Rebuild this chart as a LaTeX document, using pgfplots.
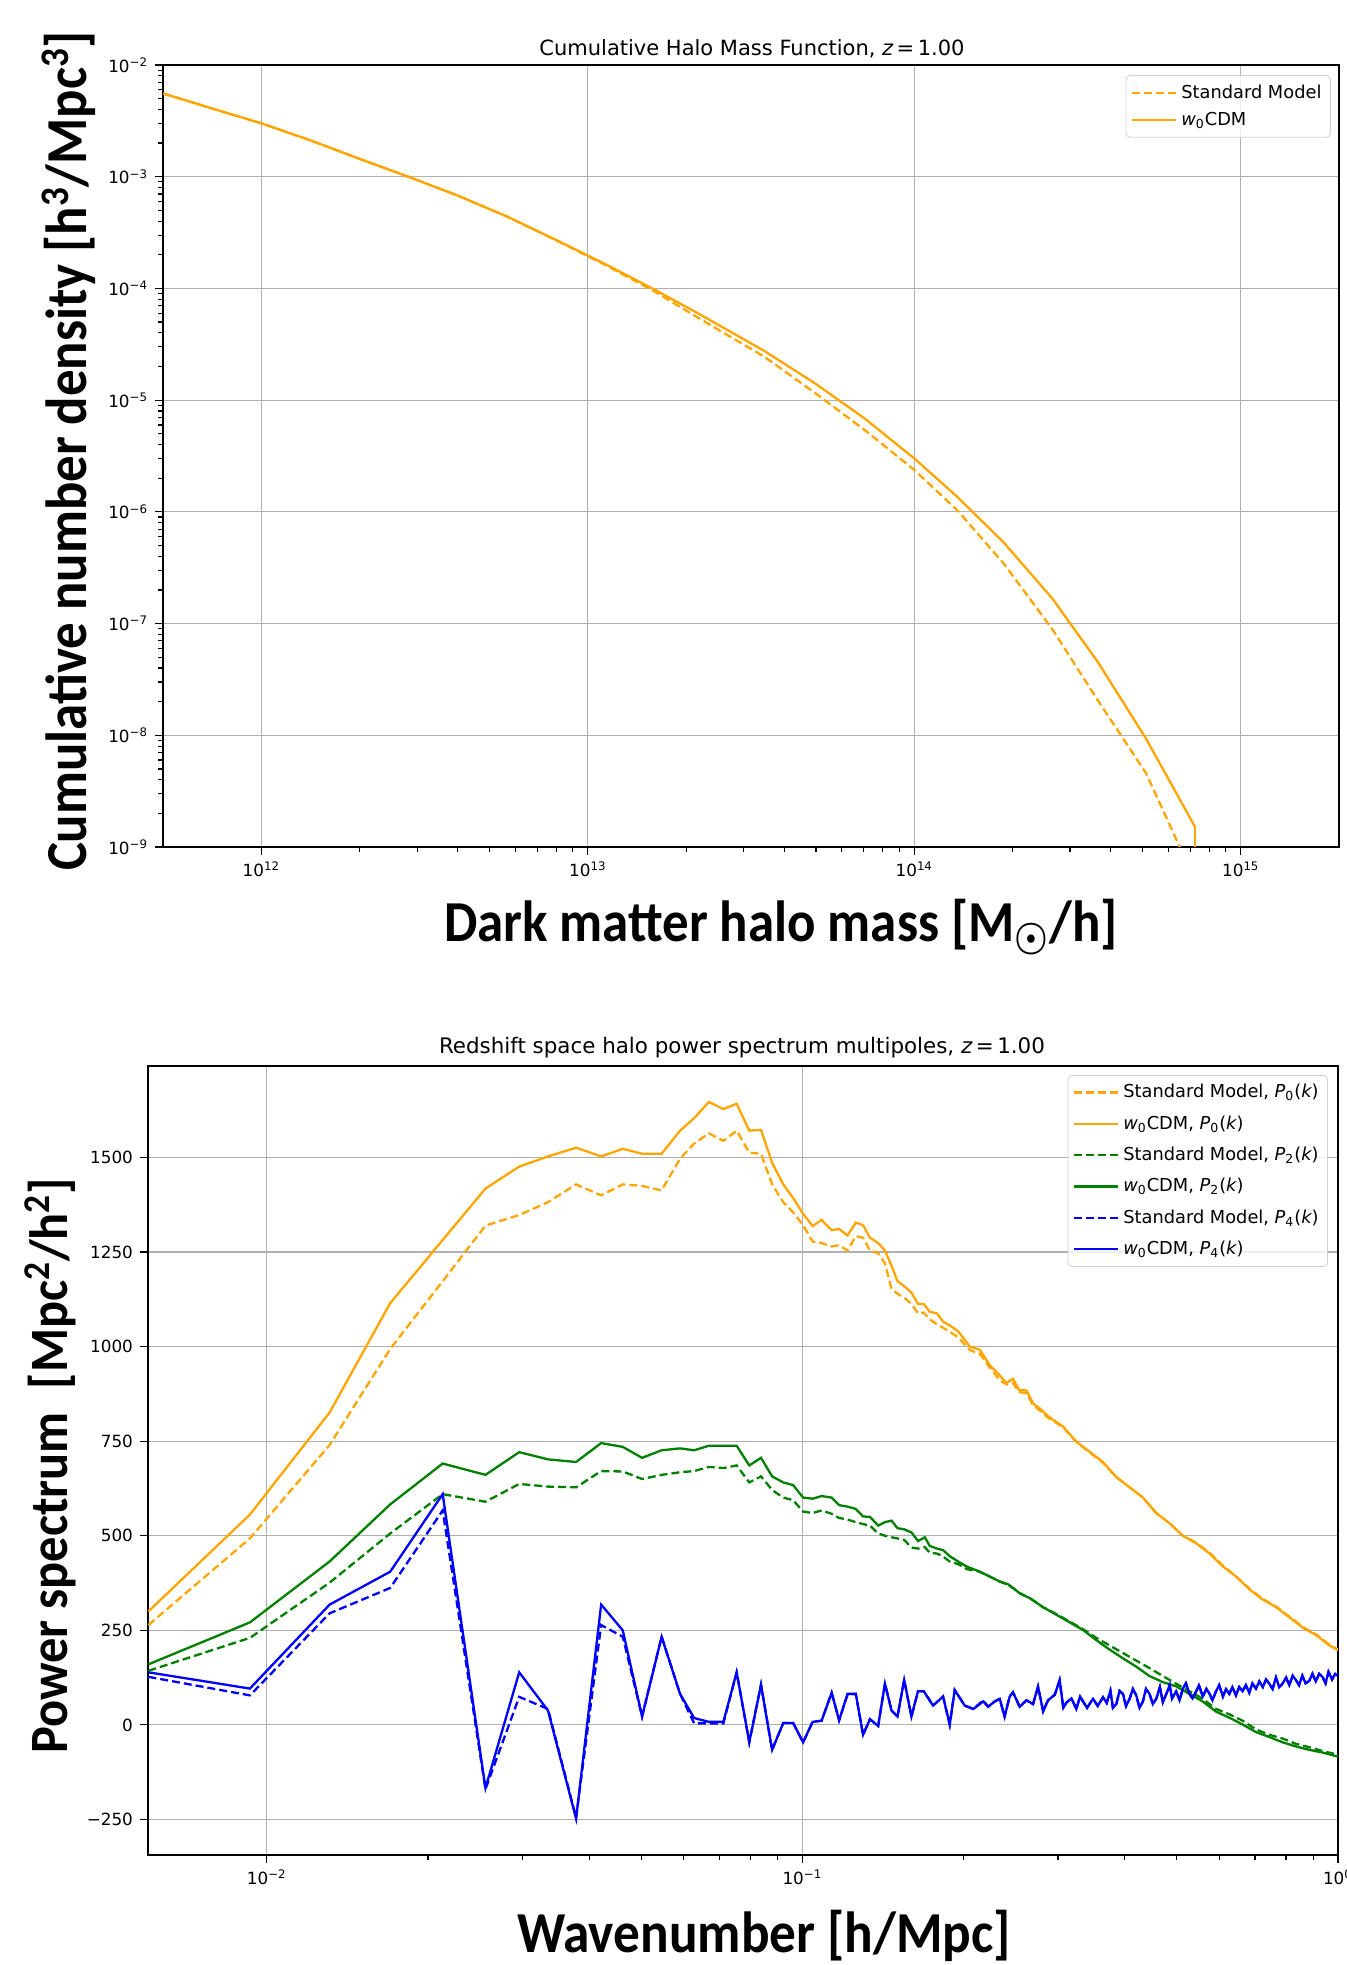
\documentclass[border=0pt]{standalone}
\usepackage{fontspec}
\setmainfont{DejaVu Sans}
\newfontfamily\labelfont{Carlito}
\usepackage{pgfplots}
\usepackage{pgfplotstable}
\pgfplotsset{compat=1.18}

\definecolor{mplorange}{HTML}{FFA500}
\definecolor{mplgreen}{HTML}{008000}
\definecolor{mplblue}{HTML}{0000FF}
\definecolor{gridgray}{HTML}{B0B0B0}

% halo mass function: M, standard model, w0CDM
\pgfplotstableread{
M         sm         w0
5.012e11  5.559e-3   5.559e-3
7.079e11  4.074e-3   4.074e-3
1e12      3.006e-3   3.006e-3
1.413e12  2.118e-3   2.118e-3
1.995e12  1.449e-3   1.449e-3
2.818e12  1.0e-3     1.0e-3
3.981e12  6.808e-4   6.808e-4
5.623e12  4.436e-4   4.436e-4
7.943e12  2.723e-4   2.742e-4
1.122e13  1.641e-4   1.671e-4
1.585e13  9.550e-5   9.908e-5
2.198e13  5.370e-5   5.888e-5
3.475e13  2.443e-5   2.754e-5
4.977e13  1.153e-5   1.406e-5
7.031e13  5.433e-6   6.887e-6
1e14      2.371e-6   3.006e-6
1.355e14  1.033e-6   1.361e-6
1.884e14  3.412e-7   5.272e-7
2.649e14  8.872e-8   1.671e-7
3.648e14  2.056e-8   4.529e-8
5.129e14  4.571e-9   9.311e-9
7.244e14  5.012e-10  1.510e-9
}\hmf

% P0: k, standard model, w0CDM
\pgfplotstableread{
k       sm    w0
0.00601 264   300
0.0093  493   556
0.0131  740   826
0.0170  994   1115
0.0213  1173  1282
0.0256  1320  1418
0.0296  1348  1476
0.0335  1382  1503
0.0378  1429  1526
0.0421  1400  1503
0.0462  1429  1523
0.0502  1425  1510
0.0546  1413  1510
0.0591  1497  1571
0.0628  1537  1604
0.0669  1564  1647
0.0712  1544  1628
0.0754  1571  1642
0.0796  1513  1571
0.0837  1510  1573
0.0878  1429  1486
0.0921  1382  1429
0.0961  1355  1393
0.1003  1321  1351
0.1045  1278  1319
0.1086  1274  1335
0.1134  1265  1308
0.1171  1268  1311
0.1214  1254  1294
0.1258  1292  1328
0.1298  1288  1321
0.1337  1254  1288
0.1385  1247  1274
0.1426  1220  1254
0.1467  1153  1214
0.1505  1140  1173
0.1549  1130  1160
0.1598  1113  1143
0.1644  1088  1113
0.1685  1090  1113
0.1729  1072  1092
0.1784  1059  1088
0.1831  1050  1066
0.1884  1039  1056
0.1953  1025  1041
0.2054  991   1000
0.2144  981   992
0.2238  945   951
0.2336  911   924
0.2404  900   904
0.2473  904   915
0.2537  880   886
0.2620  877   884
0.2696  845   850
0.2773  832   837
0.2875  812   816
0.3066  787   789
0.3247  748   749
0.3439  720   722
0.3641  693   695
0.3856  655   655
0.4083  628   628
0.4323  601   601
0.4578  560   560
0.4849  533   533
0.5134  500   500
0.5437  482   480
0.5758  455   453
0.6097  421   419
0.6457  392   392
0.6837  360   358
0.7240  333   331
0.7667  313   311
0.8119  286   284
0.8598  259   257
0.9106  239   237
0.9641  212   210
1.0000  199   197
}\pzero

% P2
\pgfplotstableread{
k       sm    w0
0.00601 143   160
0.0093  230   271
0.0131  376   432
0.0170  506   583
0.0213  610   691
0.0256  590   661
0.0296  637   721
0.0335  630   702
0.0378  628   695
0.0421  671   745
0.0462  670   735
0.0502  650   706
0.0546  661   726
0.0591  668   731
0.0628  671   726
0.0669  682   738
0.0712  679   738
0.0754  686   738
0.0796  641   686
0.0837  657   706
0.0878  621   657
0.0921  601   641
0.0961  594   634
0.1003  564   601
0.1045  560   598
0.1086  567   605
0.1134  558   601
0.1171  547   581
0.1214  543   577
0.1258  536   571
0.1298  531   551
0.1337  527   550
0.1385  506   527
0.1426  500   536
0.1467  496   540
0.1505  493   520
0.1549  489   517
0.1598  469   509
0.1644  466   486
0.1693  470   496
0.1729  455   473
0.1784  453   466
0.1831  445   462
0.1884  432   446
0.1953  425   432
0.2025  412   419
0.2144  405   405
0.2238  392   392
0.2336  379   379
0.2420  370   372
0.2473  362   362
0.2545  348   348
0.2659  335   335
0.2815  311   311
0.2981  293   291
0.3157  273   271
0.3342  253   251
0.3539  230   224
0.3747  210   199
0.3967  190   176
0.4201  170   154
0.4448  150   129
0.4710  129   113
0.4987  109   102
0.5280  89    82
0.5591  69    62
0.5920  42    35
0.6268  28    19
0.6637  11    1
0.7028  -12   -19
0.7441  -26   -32
0.7879  -36   -46
0.8343  -50   -57
0.8834  -59   -66
0.9353  -69   -73
1.0000  -79   -84
}\ptwo

% P4
\pgfplotstableread{
k       sm    w0
0.00601 127   139
0.0093  78    96
0.0131  295   318
0.0170  362   405
0.0213  567   610
0.0256  -170  -167
0.0296  74    139
0.0335  42    38
0.0378  -245  -248
0.0421  264   318
0.0462  233   250
0.0502  22    22
0.0546  233   233
0.0591  82    82
0.0628  4     18
0.0669  4     8
0.0712  4     8
0.0754  139   139
0.0796  -46   -46
0.0837  106   106
0.0878  -66   -66
0.0921  5     5
0.0961  5     5
0.1003  -46   -46
0.1045  8     8
0.1086  11    11
0.1134  85    85
0.1171  12    12
0.1214  80    82
0.1258  82    82
0.1298  -26   -26
0.1337  15    15
0.1385  -3    -3
0.1426  109   109
0.1467  38    38
0.1505  22    22
0.1549  119   119
0.1598  22    22
0.1644  89    89
0.1685  89    89
0.1754  51    51
0.1831  75    75
0.1884  1     1
0.1925  92    92
0.2010  51    51
0.2085  42    42
0.2176  65    62
0.2222  48    48
0.2287  62    62
0.2336  69    69
0.2385  22    22
0.2438  75    75
0.2473  86    86
0.2545  48    48
0.2620  65    65
0.2696  55    55
0.2754  100   102
0.2815  38    35
0.2875  65    65
0.2960  80    80
0.3022  117   119
0.3070  45    45
0.3111  59    59
0.3180  70    70
0.3247  42    42
0.3300  75    75
0.3342  62    62
0.3400  45    45
0.3488  69    69
0.3560  50    50
0.3641  73    73
0.3700  58    58
0.3760  90    90
0.3800  45    45
0.3856  55    55
0.3910  90    90
0.3967  82    82
0.4020  50    50
0.4083  69    69
0.4140  95    95
0.4201  78    78
0.4260  45    45
0.4323  62    62
0.4380  95    95
0.4448  82    82
0.4510  55    55
0.4578  69    69
0.4650  100   100
0.4710  60    60
0.4781  82    82
0.4850  105   105
0.4900  70    70
0.4987  89    89
0.5060  65    65
0.5134  96    96
0.5200  110   110
0.5280  82    82
0.5350  70    70
0.5437  89    89
0.5500  105   105
0.5591  75    75
0.5680  95    95
0.5758  82    82
0.5830  65    65
0.5920  89    89
0.6000  105   105
0.6097  75    75
0.6180  95    95
0.6268  82    82
0.6350  100   100
0.6450  78    78
0.6540  100   100
0.6637  89    89
0.6730  105   105
0.6830  85    85
0.6920  110   110
0.7028  96    96
0.7130  115   115
0.7240  100   100
0.7340  120   120
0.7441  109   109
0.7550  95    95
0.7660  125   125
0.7770  100   100
0.7879  109   109
0.8000  125   125
0.8110  105   105
0.8230  130   130
0.8343  119   119
0.8460  105   105
0.8580  130   130
0.8700  110   110
0.8834  116   116
0.8960  135   135
0.9090  115   115
0.9220  135   135
0.9353  127   127
0.9480  110   110
0.9600  140   140
0.9750  120   120
0.9880  135   135
1.0000  129   129
}\pfour

\pgfplotsset{
  mpl/.style={
    scale only axis,
    axis line style={black, line width=0.8pt},
    tick align=outside,
    xtick pos=bottom, ytick pos=left,
    grid=major,
    major grid style={gridgray, line width=0.6pt},
    major tick length=4pt, minor tick length=2.3pt,
    every tick/.style={black, line width=0.6pt},
    tick label style={font=\fontsize{8.4}{10}\selectfont},
    clip=true,
    legend cell align=left,
    legend image code/.code={\draw[#1] (0pt,0pt) -- (18.5pt,0pt); \path (0pt,0pt) -- (22pt,0pt);},
    legend style={draw=black!18, rounded corners=2pt, fill=white,
      fill opacity=0.8, draw opacity=1, text opacity=1,
      font=\fontsize{8.9}{10}\selectfont, inner sep=2.5pt},
  },
  sm/.style={line width=1.15pt, dash pattern=on 4pt off 2pt},
  wz/.style={line width=1.15pt},
}

\begin{document}
\begin{tikzpicture}
\useasboundingbox (0pt,0pt) rectangle (673.5pt,982.5pt);

% ---------- halo mass function ----------
\begin{axis}[mpl,
  at={(81.5pt,559pt)}, anchor=south west,
  width=588pt, height=391pt,
  xmode=log, ymode=log,
  xmin=5e11, xmax=2e15, ymin=1e-9, ymax=1e-2,
  xtick={1e12,1e13,1e14,1e15},
  xticklabels={10\textsuperscript{12},10\textsuperscript{13},10\textsuperscript{14},10\textsuperscript{15}},
  ytick={1e-9,1e-8,1e-7,1e-6,1e-5,1e-4,1e-3,1e-2},
  yticklabels={10\textsuperscript{−9},10\textsuperscript{−8},10\textsuperscript{−7},10\textsuperscript{−6},10\textsuperscript{−5},10\textsuperscript{−4},10\textsuperscript{−3},10\textsuperscript{−2}},
  legend style={at={(0.993,0.987)}, anchor=north east, row sep=1.5pt},
]
  \addplot[mplorange, sm] table[x=M, y=sm] {\hmf};
  \addlegendentry{Standard Model}
  \addplot[mplorange, wz] table[x=M, y=w0] {\hmf};
  \addlegendentry{{\itshape w}\textsubscript{0}CDM}
  % vertical drop at the last bin
  \addplot[mplorange, wz, forget plot] coordinates {(7.244e14,1.510e-9) (7.244e14,5e-10)};
\end{axis}

% ---------- power spectrum multipoles ----------
\begin{axis}[mpl,
  at={(74pt,55pt)}, anchor=south west,
  width=595pt, height=394.5pt,
  xmode=log,
  xmin=0.006, xmax=1, ymin=-344, ymax=1742,
  xtick={0.01,0.1,1},
  xticklabels={10\textsuperscript{−2},10\textsuperscript{−1},10\textsuperscript{0}},
  ytick={-250,0,250,500,750,1000,1250,1500},
  yticklabels={−250,0,250,500,750,1000,1250,1500},
  legend style={at={(0.9916,0.9886)}, anchor=north east, row sep=3.4pt},
]
  \addplot[mplorange, sm] table[x=k, y=sm] {\pzero};
  \addlegendentry{Standard Model, {\itshape P}\textsubscript{0}({\itshape k})}
  \addplot[mplorange, wz] table[x=k, y=w0] {\pzero};
  \addlegendentry{{\itshape w}\textsubscript{0}CDM, {\itshape P}\textsubscript{0}({\itshape k})}
  \addplot[mplgreen, sm] table[x=k, y=sm] {\ptwo};
  \addlegendentry{Standard Model, {\itshape P}\textsubscript{2}({\itshape k})}
  \addplot[mplgreen, wz] table[x=k, y=w0] {\ptwo};
  \addlegendentry{{\itshape w}\textsubscript{0}CDM, {\itshape P}\textsubscript{2}({\itshape k})}
  \addplot[mplblue, sm] table[x=k, y=sm] {\pfour};
  \addlegendentry{Standard Model, {\itshape P}\textsubscript{4}({\itshape k})}
  \addplot[mplblue, wz] table[x=k, y=w0] {\pfour};
  \addlegendentry{{\itshape w}\textsubscript{0}CDM, {\itshape P}\textsubscript{4}({\itshape k})}
\end{axis}

% titles
\node[font=\fontsize{10.5}{12}\selectfont] at (376pt,958pt) {Cumulative Halo Mass Function, {\itshape z}\,=\,1.00};
\node[font=\fontsize{10.7}{12}\selectfont] at (371pt,458.5pt) {Redshift space halo power spectrum multipoles, {\itshape z}\,=\,1.00};

% big axis labels
\node at (390.5pt,519pt) {\resizebox{337pt}{\height}{\labelfont\bfseries\fontsize{29}{34}\selectfont Dark matter halo mass [M\boldmath$_\odot$/h]}};
\node[rotate=90] at (34.5pt,757pt) {\resizebox{420pt}{\height}{\labelfont\bfseries\fontsize{29}{34}\selectfont Cumulative number density [h\textsuperscript{3}/Mpc\textsuperscript{3}]}};
\node at (382pt,14.5pt) {\resizebox{247pt}{\height}{\labelfont\bfseries\fontsize{29}{34}\selectfont Wavenumber [h/Mpc]}};
\node[rotate=90] at (25pt,249.5pt) {\resizebox{288pt}{\height}{\labelfont\bfseries\fontsize{27}{32}\selectfont Power spectrum\ \ [Mpc\textsuperscript{2}/h\textsuperscript{2}]}};
\end{tikzpicture}
\end{document}
